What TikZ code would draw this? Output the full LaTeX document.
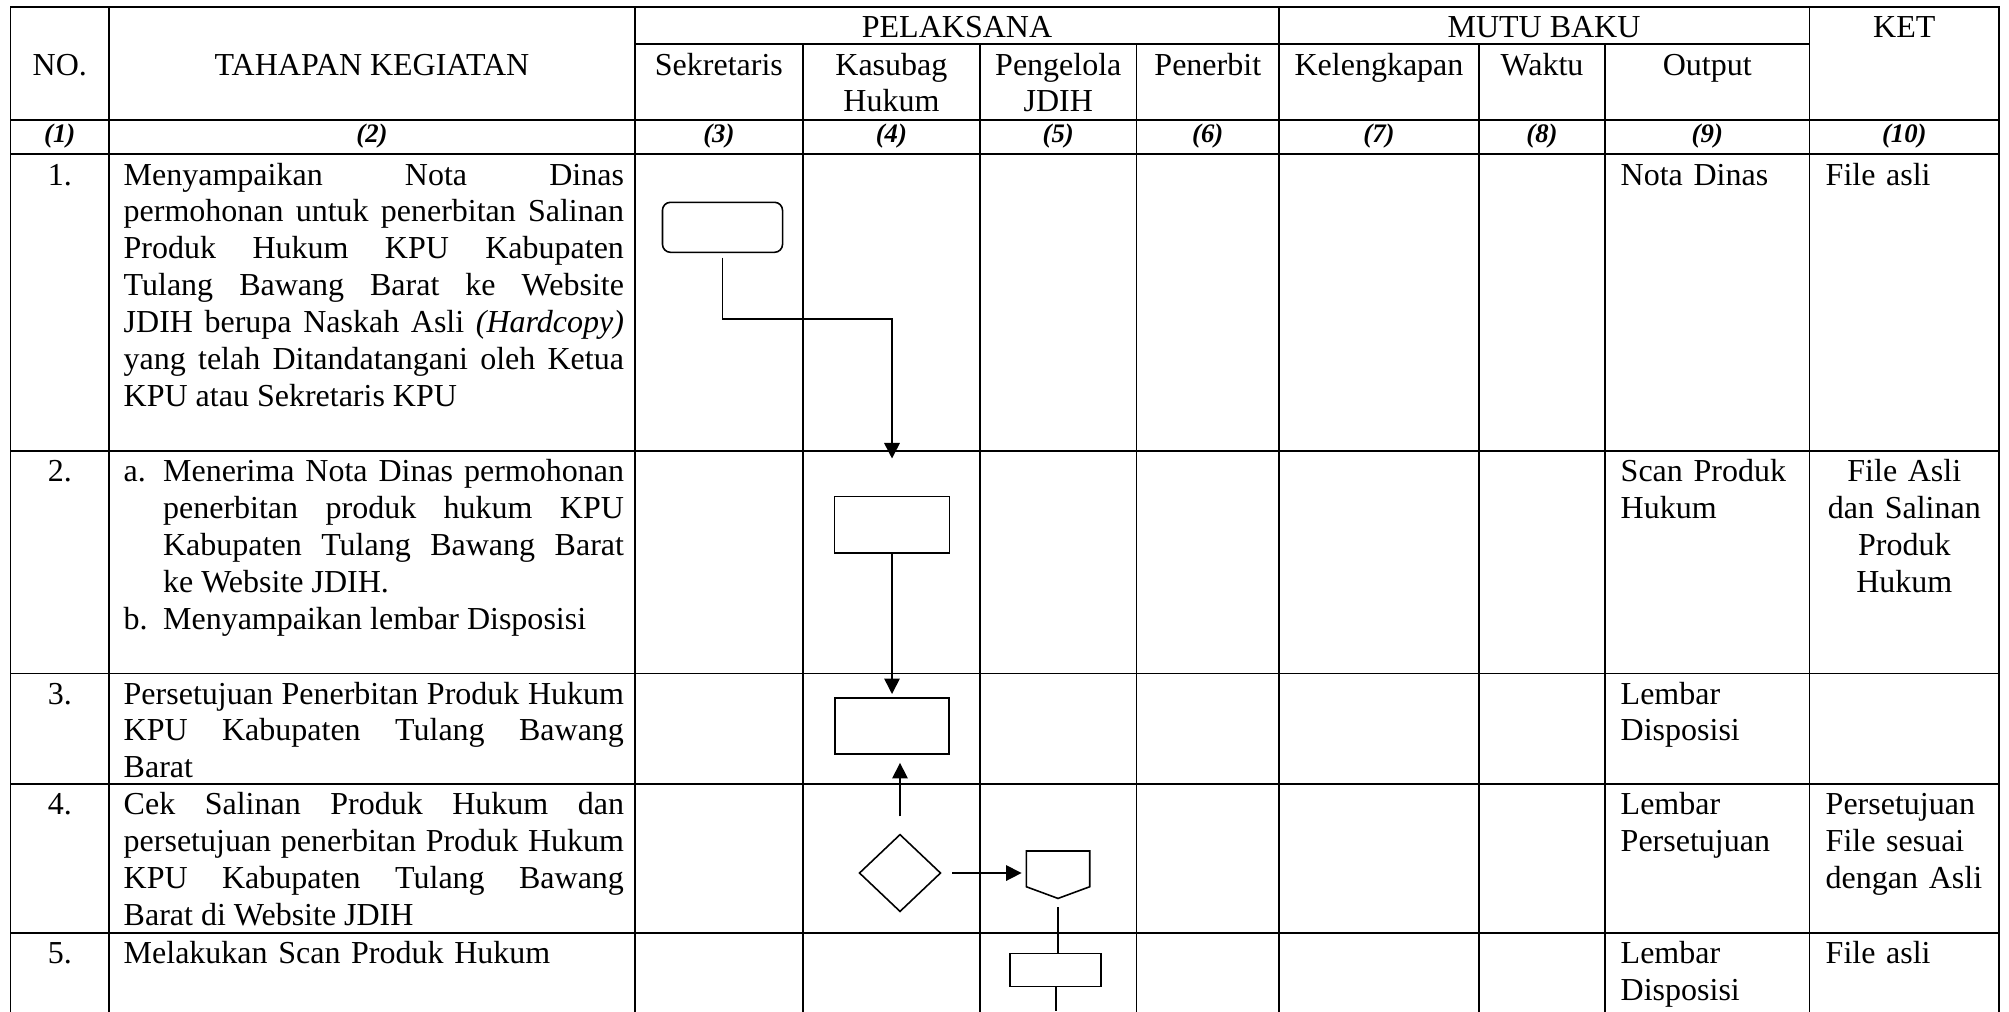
\documentclass[tikz,border=0pt]{standalone}
\usepackage{fontspec}
\setmainfont{Liberation Serif}
\usetikzlibrary{shapes.geometric,arrows.meta,positioning,calc}

\begin{document}
\begin{tikzpicture}[
    x=0.01cm, y=-0.01cm,
    font=\fontsize{9.1pt}{10.5pt}\selectfont,
    grid/.style={line width=0.5pt, line cap=rect},
    txt/.style={inner sep=0, anchor=base west, align=left},
    hdr/.style={inner sep=0, anchor=base, align=center},
    num/.style={inner sep=0, anchor=base, font=\fontsize{7.6pt}{9pt}\selectfont\bfseries\itshape},
    proc/.style={draw, rectangle, line width=0.45pt, inner sep=0},
    flow/.style={line width=0.45pt, -{Triangle[length=0.155cm, width=0.155cm]}},
    link/.style={line width=0.45pt}
]
    \useasboundingbox (0,0) rectangle (2009,1011);

    % Table rules
    \draw [grid] (10.5,7) -- (1999,7);
    \draw [grid] (635,44.3) -- (1809.5,44.3);
    \foreach \y in {120,154.3,451,673.5,784,933}
        \draw [grid] (10.5,\y) -- (1999,\y);
    \foreach \x/\y in {10.5/7, 109/7, 635/7, 802.8/44.3, 980/44.3, 1136.5/44.3, 1279/7, 1479/44.3, 1605/44.3, 1809.5/7, 1999/7}
        \draw [grid] (\x,\y) -- (\x,1011);

    % Header
    \node [hdr] (pel) at (957,37.3) {PELAKSANA};
    \node [hdr] (mutu) at (1544,37.3) {MUTU BAKU};
    \node [hdr] (ket) at (1904.3,37.3) {KET};
    \node [hdr] (no) at (59.8,75) {NO.};
    \node [hdr] (tahap) at (372,75) {TAHAPAN KEGIATAN};
    \node [hdr] (sek) at (718.9,75) {Sekretaris};
    \node [hdr, text width=1.7cm] (kas) at (891.4,75) {Kasubag\\Hukum};
    \node [hdr, text width=1.5cm] (jdih) at (1058.3,75) {Pengelola\\JDIH};
    \node [hdr] (pen) at (1207.8,75) {Penerbit};
    \node [hdr] (lengkap) at (1379,75) {Kelengkapan};
    \node [hdr] (waktu) at (1542,75) {Waktu};
    \node [hdr] (out) at (1707.3,75) {Output};

    % Column numbers
    \foreach \i/\x in {1/59.8, 2/372, 3/718.9, 4/891.4, 5/1058.3, 6/1207.8, 7/1379, 8/1542, 9/1707.3, 10/1904.3}
        \node [num] (n\i) at (\x,142) {(\i)};

    % Row numbers
    \foreach \i/\y in {1/185, 2/481.7, 3/704, 4/814.5, 5/963.5}
        \node [hdr] (r\i) at (59.8,\y) {\i.};

    % Tahapan kegiatan
    \node [txt, text width=5cm, align=justify] (t1) at (123,185) {Menyampaikan Nota Dinas\linebreak
        permohonan untuk penerbitan Salinan\linebreak
        Produk Hukum KPU Kabupaten\linebreak
        Tulang Bawang Barat ke Website\linebreak
        JDIH berupa Naskah Asli \textit{(Hardcopy)}\linebreak
        yang telah Ditandatangani oleh Ketua\linebreak
        KPU atau Sekretaris KPU};
    \node [txt, text width=5cm, align=justify] (t2) at (123,481.7) {\hangindent=0.394cm\hangafter=1\noindent\makebox[0.394cm][l]{a.}Menerima Nota Dinas permohonan\linebreak
        penerbitan produk hukum KPU\linebreak
        Kabupaten Tulang Bawang Barat\linebreak
        ke Website JDIH.\par
        \hangindent=0.394cm\hangafter=1\noindent\makebox[0.394cm][l]{b.}Menyampaikan lembar Disposisi};
    \node [txt, text width=5cm, align=justify] (t3) at (123,704) {Persetujuan Penerbitan Produk Hukum\linebreak
        KPU Kabupaten Tulang Bawang\linebreak
        Barat};
    \node [txt, text width=5cm, align=justify] (t4) at (123,814.5) {Cek Salinan Produk Hukum dan\linebreak
        persetujuan penerbitan Produk Hukum\linebreak
        KPU Kabupaten Tulang Bawang\linebreak
        Barat di Website JDIH};
    \node [txt, text width=5cm] (t5) at (123,963.5) {Melakukan Scan Produk Hukum};

    % Output and keterangan
    \node [txt, text width=1.85cm] (o1) at (1620,185) {Nota Dinas};
    \node [txt, text width=1.85cm] (o2) at (1620,481.7) {Scan Produk\\Hukum};
    \node [txt, text width=1.85cm] (o3) at (1620,704) {Lembar\\Disposisi};
    \node [txt, text width=1.85cm] (o4) at (1620,814.5) {Lembar\\Persetujuan};
    \node [txt, text width=1.85cm] (o5) at (1620,963.5) {Lembar\\Disposisi};
    \node [txt, text width=1.7cm] (k1) at (1825,185) {File asli};
    \node [hdr, text width=1.8cm] (k2) at (1904.3,481.7) {File Asli\\dan Salinan\\Produk\\Hukum};
    \node [txt, text width=1.7cm] (k4) at (1825,814.5) {Persetujuan\\File sesuai\\dengan Asli};
    \node [txt, text width=1.7cm] (k5) at (1825,963.5) {File asli};

    % Flow symbols
    \node [proc, rounded corners=0.08cm, minimum width=1.2cm, minimum height=0.5cm] (start) at (722.5,227.3) {};
    \node [proc, minimum width=1.15cm, minimum height=0.56cm] (recv) at (892,524.7) {};
    \node [proc, minimum width=1.14cm, minimum height=0.56cm] (appr) at (892,725.8) {};
    \node [draw, diamond, line width=0.45pt, inner sep=0, minimum width=0.816cm, minimum height=0.774cm] (check) at (900,873) {};
    \node [inner sep=0, minimum width=0.62cm, minimum height=0.46cm] (offpage) at (1058,874.7) {};
    \draw [link] (offpage.north west) -- (offpage.north east) -- ($(offpage.south east)+(0,-11.7)$) -- (offpage.south) -- ($(offpage.south west)+(0,-11.7)$) -- cycle; % Off-page connector
    \node [proc, minimum width=0.91cm, minimum height=0.33cm] (scan) at (1055.7,970) {};
    \coordinate (pgend) at (1055.7,1011);

    % Connectors
    \draw [flow, shorten <=0.044cm, shorten >=0.374cm] (start.south) -- ++(0,66) -| (recv.north);
    \draw [flow, shorten >=0.03cm] (recv.south) -- (appr.north);
    \draw [flow, shorten <=0.17cm, shorten >=0.083cm] (check.north) -- (check.north |- appr.south);
    \draw [flow, shorten <=0.104cm, shorten >=0.047cm] (check.east) -- (check.east -| offpage.west);
    \draw [link, shorten <=0.09cm] (offpage.south) -- (offpage.south |- scan.north);
    \draw [link] (scan.south) -- (pgend);
\end{tikzpicture}
\end{document}
